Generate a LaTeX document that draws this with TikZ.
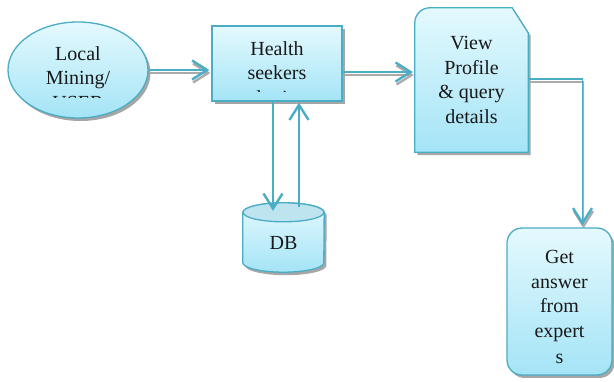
\documentclass[tikz,border=0pt]{standalone}
\usepackage{fontspec}
\setmainfont{Liberation Serif}
\usetikzlibrary{arrows.meta,calc,shapes.geometric,shadows}

\definecolor{edge}{HTML}{4BACC6}
\definecolor{filltop}{HTML}{E4F9FE}
\definecolor{fillbot}{HTML}{A4E4F6}
\definecolor{shade}{HTML}{9C9C9C}
\definecolor{captop}{HTML}{BDE4EF}

\tikzset{
  box/.style={draw=edge, line width=1.3pt, top color=filltop, bottom color=fillbot,
    drop shadow={shadow xshift=2.5pt, shadow yshift=-3pt, fill=shade, opacity=0.9}},
  label/.style={font=\fontsize{20}{24.5}\selectfont, align=center, text=black!90, inner sep=0pt},
  tip/.style={-{Straight Barb[length=15pt,width=19pt,line width=2.4pt]}},
  link/.style={draw=edge, line width=1.7pt, tip},
  linkshadow/.style={draw=shade!85, line width=1.7pt, tip, transform canvas={shift={(1pt,-3pt)}}},
}

\begin{document}
\begin{tikzpicture}[x=1pt, y=-1pt]
\useasboundingbox (0,0) rectangle (614,382);

% user ellipse
\node[box, ellipse, minimum width=140pt, minimum height=96pt] (user) at (78,70) {};
\begin{scope}
  \clip (0,0) rectangle (614,98);
  \node[label] (usertext) at (78,78) {Local\\Mining/\\USER};
\end{scope}

% health seekers box
\node[box, rectangle, minimum width=130pt, minimum height=75pt] (health) at (277,63.5) {};
\begin{scope}
  \clip (0,0) rectangle (614,92);
  \node[label] (healthtext) at (277,75) {Health\\seekers\\login};
\end{scope}

% view profile: snipped top-right, rounded top-left
\node[minimum width=113pt, minimum height=144pt, inner sep=0pt] (view) at (471.5,80) {};
\path[box] ($(view.north west)+(0,15)$) arc[start angle=180, end angle=270, radius=15]
  -- ($(view.north east)+(-16,0)$) -- ($(view.north east)+(0,25)$)
  -- (view.south east) -- (view.south west) -- cycle;
\node[label] (viewtext) at (471.5,80) {View\\Profile\\\&\ query\\details};

% answer box
\node[box, rectangle, rounded corners=15pt, minimum width=105pt, minimum height=147pt] (get) at (559.5,301.5) {};
\node[label] (gettext) at (559.5,307) {Get\\answer\\from\\expert\\[2pt]s};

% database cylinder
\node[minimum width=81pt, minimum height=69pt, inner sep=0pt] (db) at (283.5,237.5) {};
\path[box] ($(db.north west)+(0,9.5)$) -- ($(db.south west)+(0,-9.5)$)
  arc[start angle=180, end angle=0, x radius=40.5, y radius=9.5]
  -- ($(db.north east)+(0,9.5)$)
  arc[start angle=0, end angle=-180, x radius=40.5, y radius=9.5] -- cycle;
\draw[draw=edge, line width=1.3pt, fill=captop] ($(db.north)+(0,9.5)$) ellipse[x radius=40.5, y radius=9.5];
\node[label] (dbtext) at (283.5,243) {DB};

% connectors
\coordinate (hsout) at ($(health.east)+(0,8.5)$);
\coordinate (vwout) at ($(view.east)+(0,-1)$);
\coordinate (gtin) at ($(get.north)+(23,-2)$);
\coordinate (hsdown) at ($(health.south)+(-4,0)$);
\coordinate (hsup) at ($(health.south)+(22,1)$);
\coordinate (dbin) at ($(db.north)+(-11,8)$);
\coordinate (dbout) at ($(db.north)+(15.5,4)$);

\foreach \sty in {linkshadow, link} {
  \draw[\sty] (user.east) -- ($(user.east -| health.west)+(-2,0)$);
  \draw[\sty] (hsout) -- ($(hsout -| view.west)+(-2,0)$);
  \draw[\sty] (vwout) -| (gtin);
}
\draw[link] (hsdown) -- (hsdown |- dbin);
\draw[link] (dbout -| hsup) -- (hsup);
\end{tikzpicture}
\end{document}
